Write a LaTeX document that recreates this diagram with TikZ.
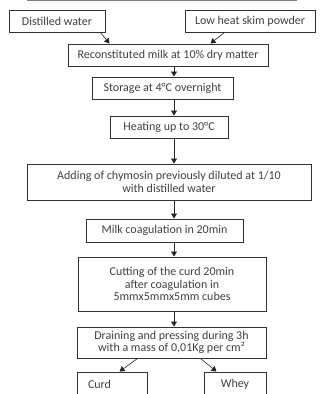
\documentclass[tikz,border=0pt]{standalone}
\usepackage{fontspec}
\setmainfont{Carlito}
\usetikzlibrary{arrows.meta}
\begin{document}
\begin{tikzpicture}[x=1pt,y=-1pt,
  box/.style={draw=black!80, line width=1pt, inner sep=0pt, align=center,
    font=\fontsize{12}{12.5}\selectfont, text=black!75},
  arr/.style={-{Triangle[width=6pt,length=5pt]}, line width=0.6pt, draw=black!85}]
\useasboundingbox (0,0) rectangle (320,394);
\clip (0,0) rectangle (320,394);
\draw[black!50, line width=1pt] (27,0.5) -- (297,0.5);
\coordinate (ax) at (174,0);
\node[box, minimum width=96pt, minimum height=22pt] (dw) at (57,21) {Distilled water};
\node[box, minimum width=130pt, minimum height=22pt] (sp) at (250,21) {Low heat skim powder};
\node[box, minimum width=200pt, minimum height=22pt] (rm) at (168,55) {Reconstituted milk at 10\% dry matter};
\node[box, minimum width=141pt, minimum height=22pt] (st) at (162.5,88) {Storage at 4°C overnight};
\node[box, minimum width=118pt, minimum height=22pt] (ht) at (169,127) {Heating up to 30°C};
\node[box, minimum width=284pt, minimum height=36pt] (ad) at (169,182) {Adding of chymosin previously diluted at 1/10\\with distilled water};
\node[box, minimum width=157pt, minimum height=23pt] (mc) at (164.5,230.5) {Milk coagulation in 20min};
\node[box, minimum width=188pt, minimum height=54pt] (cu) at (172,284) {Cutting of the curd 20min\\after coagulation in\\5mmx5mmx5mm cubes};
\node[box, minimum width=189pt, minimum height=31pt] (dr) at (171.5,342.5) {Draining and pressing during 3h\\with a mass of 0,01Kg per cm²};
\node[box, minimum height=24pt, inner xsep=11pt, text width=48pt, align=left] (cd) at (112,384) {Curd};
\node[box, minimum width=62pt, minimum height=24pt] (wh) at (235,384) {Whey};
\draw[arr] ([xshift=-5pt]dw.south east) -- ([xshift=42pt]rm.north west);
\draw[arr] ([xshift=40pt]sp.south west) -- ([xshift=-58pt]rm.north east);
\draw[arr] (rm.south -| ax) -- (st.north -| ax);
\draw[arr] (st.south -| ax) -- (ht.north -| ax);
\draw[arr] (ht.south -| ax) -- (ad.north -| ax);
\draw[arr] (ad.south -| ax) -- (mc.north -| ax);
\draw[arr] (mc.south -| ax) -- (cu.north -| ax);
\draw[arr] (cu.south -| ax) -- (dr.north -| ax);
\draw[arr] ([xshift=61pt]dr.south west) -- ([xshift=43pt]cd.north west);
\draw[arr] ([xshift=-66pt]dr.south east) -- ([xshift=13pt]wh.north west);
\end{tikzpicture}
\end{document}
